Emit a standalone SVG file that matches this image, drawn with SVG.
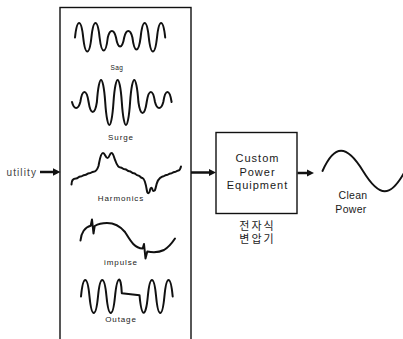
<svg xmlns="http://www.w3.org/2000/svg" width="403" height="339" viewBox="0 0 403 339">
<defs>
<style>
.wave{fill:none;stroke:#111;stroke-width:2;stroke-linejoin:round;stroke-linecap:round}
.box{fill:#fff;stroke:#111;stroke-width:1.4}
.lbl{font-family:"Liberation Sans",Arial,sans-serif;font-size:8px;letter-spacing:0.9px;fill:#222;text-anchor:middle}
.big{font-family:"Liberation Sans",Arial,sans-serif;font-size:11px;letter-spacing:1px;fill:#1a1a1a;text-anchor:middle}
.kr{font-family:"Liberation Sans","Noto Sans CJK KR",sans-serif;font-size:11px;letter-spacing:2px;fill:#222;text-anchor:middle}
.conn{fill:none;stroke:#111;stroke-width:2.5}
</style>
<marker id="ah" markerWidth="8" markerHeight="8" refX="3.5" refY="3.75" orient="auto" markerUnits="userSpaceOnUse">
<path d="M0,0 L7.5,3.75 L0,7.5 z" fill="#111"/>
</marker>
</defs>
<rect width="403" height="339" fill="#fff"/>

<g id="utility">
<text x="6.5" y="175.5" font-family="'Liberation Sans',Arial,sans-serif" font-size="10" letter-spacing="1.1" fill="#444">utility</text>
</g>

<g id="disturbances">
<rect class="box" x="60" y="7.5" width="131" height="345"/>
<path id="sag" class="wave" d="M75,37.5 c2.05,-19.33 6.15,-19.33 8.2,0 c2.05,18.67 6.15,18.67 8.2,0 c2.05,-19.33 6.15,-19.33 8.2,0 c2.05,17.33 6.15,17.33 8.2,0 c2.05,-8.67 6.15,-8.67 8.2,0 c2.05,12 6.15,12 8.2,0 c2.05,-8.67 6.15,-8.67 8.2,0 c2.05,16 6.15,16 8.2,0 c2.05,-19.33 6.15,-19.33 8.2,0 c2.05,18.67 6.15,18.67 8.2,0 c2.05,-19.33 6.15,-19.33 8.2,0"/>
<text class="lbl" x="117" y="69.5" style="font-size:6.5px;letter-spacing:0.4px">Sag</text>
<path id="surge" class="wave" d="M72,102 c2.08,8 6.22,8 8.3,0 c2.08,-13.33 6.22,-13.33 8.3,0 c2.08,13.33 6.22,13.33 8.3,0 c2.08,-29.33 6.22,-29.33 8.3,0 c2.08,30.67 6.22,30.67 8.3,0 c2.08,-29.33 6.22,-29.33 8.3,0 c2.08,30.67 6.22,30.67 8.3,0 c2.08,-29.33 6.22,-29.33 8.3,0 c2.08,14.67 6.22,14.67 8.3,0 c2.08,-13.33 6.22,-13.33 8.3,0 c2.08,8 6.22,8 8.3,0 c2.08,-13.33 6.22,-13.33 8.3,0"/>
<text class="lbl" x="121" y="140">Surge</text>
<path id="harmonics" class="wave" d="M71.5,184.5 C71.5,180.5 73,178.5 76,178.5 c2.2,0 2.2,-2 4.4,-2 c2.2,0 2.2,-1.6 4.4,-1.6 c2.2,0 2.2,-1.6 4.4,-1.6 c2.2,0 2.2,-1.6 4.4,-1.6 C96,171.7 97.5,169 98.5,166 C99.5,161 100.5,153 103,153 C105,153 105.5,158 107.5,158 C109.5,158 109.5,153 111.5,153 C113.5,153 114,158 115.5,161 C116.5,164 118,167.5 120.5,167.5 c2.2,0 2.2,1.8 4.4,1.8 c2.2,0 2.2,2 4.4,2 c2.2,0 2.2,2 4.4,2 c2.2,0 2.2,2.2 4.4,2.2 c2.2,0 2.2,2.5 4.4,2.5 C144.5,178.5 146,185 147,191 C147.5,194 149.5,194 150,190 C150.5,187 152,187 152.5,189.5 C153,191.5 155,191.5 155.5,188.5 C156.5,183 159,177.5 162.5,176.5 c2,0 2,-1.5 4,-1.5 c2,0 2,-1.5 4,-1.5 c2,0 2,-1.5 4,-1.5 c2,0 2,-1.5 4,-1.5 C180,170 180.5,168.5 181,166.5"/>
<text class="lbl" x="121" y="201">Harmonics</text>
<path id="impulse" class="wave" d="M80.5,240.5 C81,233 85,227 90.7,225.7 L92,219.5 L93.5,233.5 L94.7,226 C98,224 102,223 107,223 C114,223 120,226 125,232 C130,240 134,248 142.7,248.5 L144,244 L145.5,258.5 L147.3,251.5 C152,252.5 158,253 164,250 C169,247 172,243 175,238.5"/>
<text class="lbl" x="121" y="265">impulse</text>
<path id="outage" class="wave" d="M81,296.5 c2.12,-22 6.38,-22 8.5,0 c2.12,22 6.38,22 8.5,0 c2.12,-22 6.38,-22 8.5,0 c2.12,22 6.38,22 8.5,0 C117.2,274.5 121,274.5 121.8,293.2 L139.5,295.2 C141.6,318.5 145.7,318.5 147.8,296.5 c2.08,-22 6.22,-22 8.3,0 c2.08,22 6.22,22 8.3,0 c2.08,-22 6.22,-22 8.3,0"/>
<text class="lbl" x="121" y="322">Outage</text>
</g>

<g id="custom-power-equipment">
<rect class="box" x="216" y="132.5" width="81" height="81"/>
<text class="big" x="257.5" y="162">Custom</text>
<text class="big" x="257.5" y="175.5">Power</text>
<text class="big" x="257.5" y="189">Equipment</text>
<text class="kr" x="257.5" y="230">전자식</text>
<text class="kr" x="257.5" y="242.5">변압기</text>
</g>

<g id="clean-power">
<path class="wave" style="stroke-width:1.9" d="M322.5,171 c12,-27 24,-27 40.5,0 c16.5,27 27.5,27 42,0"/>
<text class="big" x="353" y="198.5" style="font-size:10.5px;letter-spacing:0.3px">Clean</text>
<text class="big" x="351" y="212.5" style="font-size:10.5px;letter-spacing:0.3px">Power</text>
</g>

<g id="connectors">
<line class="conn" x1="40" y1="172" x2="56.5" y2="172" marker-end="url(#ah)"/>
<line class="conn" x1="191" y1="172.5" x2="212" y2="172.5" marker-end="url(#ah)"/>
<line class="conn" x1="297.5" y1="173" x2="310" y2="173" marker-end="url(#ah)"/>
</g>
</svg>
